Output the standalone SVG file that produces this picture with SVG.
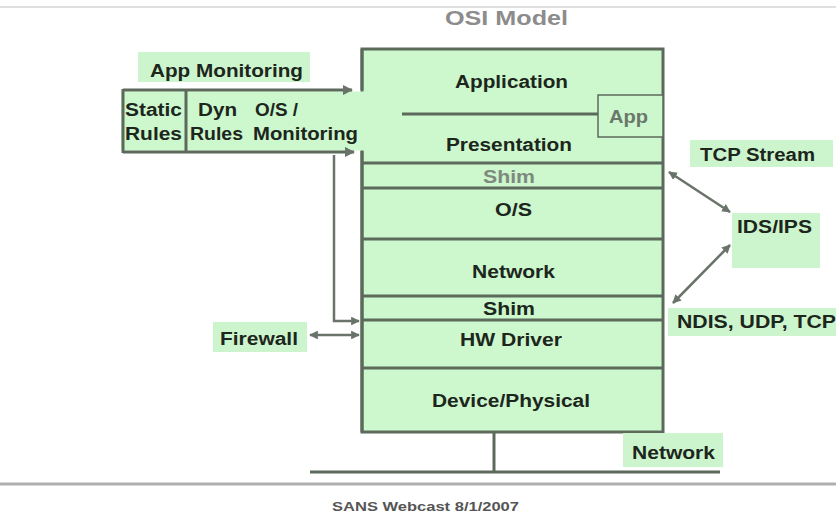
<svg xmlns="http://www.w3.org/2000/svg" width="836" height="516" viewBox="0 0 836 516">
<style>
.t{font-family:"Liberation Sans",Arial,sans-serif;font-weight:bold;font-size:18px;fill:#1c261c}
.g{fill:#7d8a7d}
.bg{fill:#cdf5cd}
.layer{fill:#cdf7cd;stroke:#5c6a5c;stroke-width:3}
.ln{stroke:#5c6a5c;stroke-width:3;fill:none}
.cn{stroke:#6a736a;stroke-width:2.5;fill:none}
</style>
<defs>
<marker id="ah" viewBox="0 0 10 10" refX="9" refY="5" markerWidth="3.5" markerHeight="3.5" orient="auto-start-reverse" markerUnits="strokeWidth">
<path d="M0,0 L10,5 L0,10 z" fill="#6a736a"/>
</marker>
</defs>
<rect width="836" height="516" fill="#ffffff"/>
<line x1="0" y1="7" x2="836" y2="7" stroke="#d4d4d4" stroke-width="1.5"/>
<line x1="0" y1="484" x2="836" y2="484" stroke="#b0b0b0" stroke-width="3"/>
<text class="t" x="445" y="25" style="font-size:20px;fill:#8c8c8c" textLength="123" lengthAdjust="spacingAndGlyphs">OSI Model</text>
<text class="t" x="332" y="511" style="font-size:13px;fill:#555" textLength="187" lengthAdjust="spacingAndGlyphs">SANS Webcast  8/1/2007</text>

<g id="osi-stack">
<rect class="layer" x="362" y="49" width="301" height="383"/>
<line class="ln" x1="362" y1="163" x2="663" y2="163"/>
<line class="ln" x1="362" y1="188" x2="663" y2="188"/>
<line class="ln" x1="362" y1="239" x2="663" y2="239"/>
<line class="ln" x1="362" y1="296" x2="663" y2="296"/>
<line class="ln" x1="362" y1="320" x2="663" y2="320"/>
<line class="ln" x1="362" y1="368" x2="663" y2="368"/>
</g>

<g id="monitoring-panel">
<rect x="121" y="91.5" width="243" height="59" fill="#cdf7cd"/>
<line class="ln" x1="123" y1="89" x2="123" y2="153"/>
<line class="ln" x1="186" y1="89" x2="186" y2="153"/>
<text class="t" x="125" y="116" textLength="57" lengthAdjust="spacingAndGlyphs">Static</text>
<text class="t" x="125" y="140" textLength="57" lengthAdjust="spacingAndGlyphs">Rules</text>
<text class="t" x="198" y="116" textLength="39" lengthAdjust="spacingAndGlyphs">Dyn</text>
<text class="t" x="190" y="140" textLength="53" lengthAdjust="spacingAndGlyphs">Rules</text>
<text class="t" x="255" y="116" textLength="43" lengthAdjust="spacingAndGlyphs">O/S /</text>
<text class="t" x="253" y="140" textLength="105" lengthAdjust="spacingAndGlyphs">Monitoring</text>
</g>

<g id="layer-application"><text class="t" x="455" y="88" textLength="113" lengthAdjust="spacingAndGlyphs">Application</text></g>
<g id="layer-presentation"><text class="t" x="446" y="151" textLength="126" lengthAdjust="spacingAndGlyphs">Presentation</text></g>
<g id="layer-shim-upper"><text class="t g" x="483" y="183" textLength="52" lengthAdjust="spacingAndGlyphs">Shim</text></g>
<g id="layer-os"><text class="t" x="495" y="216" textLength="37" lengthAdjust="spacingAndGlyphs">O/S</text></g>
<g id="layer-network"><text class="t" x="472" y="278" textLength="83" lengthAdjust="spacingAndGlyphs">Network</text></g>
<g id="layer-shim-lower"><text class="t" x="483" y="315" textLength="52" lengthAdjust="spacingAndGlyphs">Shim</text></g>
<g id="layer-hw-driver"><text class="t" x="460" y="346" textLength="102" lengthAdjust="spacingAndGlyphs">HW Driver</text></g>
<g id="layer-device"><text class="t" x="432" y="407" textLength="158" lengthAdjust="spacingAndGlyphs">Device/Physical</text></g>

<g id="app">
<rect x="598" y="95" width="65" height="42" fill="#cdf7cd" stroke="#5c6a5c" stroke-width="1.5"/>
<text class="t" x="609" y="123" style="fill:#6a786a" textLength="39" lengthAdjust="spacingAndGlyphs">App</text>
</g>

<g id="app-monitoring">
<rect class="bg" x="138" y="52" width="172" height="30"/>
<text class="t" x="150" y="77" textLength="153" lengthAdjust="spacingAndGlyphs">App Monitoring</text>
</g>
<g id="firewall">
<rect class="bg" x="213" y="322" width="94" height="30"/>
<text class="t" x="220" y="345" textLength="78" lengthAdjust="spacingAndGlyphs">Firewall</text>
</g>
<g id="tcp-stream">
<rect class="bg" x="690" y="140" width="143" height="27"/>
<text class="t" x="700" y="161" textLength="115" lengthAdjust="spacingAndGlyphs">TCP Stream</text>
</g>
<g id="ids-ips">
<rect class="bg" x="732" y="213" width="88" height="55"/>
<text class="t" x="737" y="233" textLength="75" lengthAdjust="spacingAndGlyphs">IDS/IPS</text>
</g>
<g id="ndis">
<rect class="bg" x="668" y="308" width="168" height="28"/>
<text class="t" x="677" y="328" textLength="159" lengthAdjust="spacingAndGlyphs">NDIS, UDP, TCP</text>
</g>
<g id="network-label">
<rect class="bg" x="623" y="433" width="100" height="34"/>
<text class="t" x="632" y="459" textLength="83" lengthAdjust="spacingAndGlyphs">Network</text>
</g>

<g id="connectors">
<line class="ln" x1="362" y1="49" x2="362" y2="90"/>
<line class="ln" x1="362" y1="151" x2="362" y2="432"/>
<line class="cn" x1="123" y1="90" x2="352" y2="90" marker-end="url(#ah)" style="stroke:#5c6a5c;stroke-width:3"/>
<line class="cn" x1="123" y1="152" x2="354" y2="152" marker-end="url(#ah)" style="stroke:#5c6a5c;stroke-width:3"/>
<line class="cn" x1="402" y1="114" x2="598" y2="114" style="stroke:#5c6a5c;stroke-width:3"/>
<polyline class="cn" points="334,155 334,321 359,321" marker-end="url(#ah)"/>
<line class="cn" x1="310" y1="335" x2="359" y2="335" marker-start="url(#ah)" marker-end="url(#ah)"/>
<line class="cn" x1="730" y1="212" x2="669" y2="172" marker-start="url(#ah)" marker-end="url(#ah)"/>
<line class="cn" x1="730" y1="245" x2="673" y2="303" marker-start="url(#ah)" marker-end="url(#ah)"/>
<line class="ln" x1="494" y1="432" x2="494" y2="472"/>
<line class="ln" x1="310" y1="472" x2="720" y2="472"/>
</g>
</svg>
